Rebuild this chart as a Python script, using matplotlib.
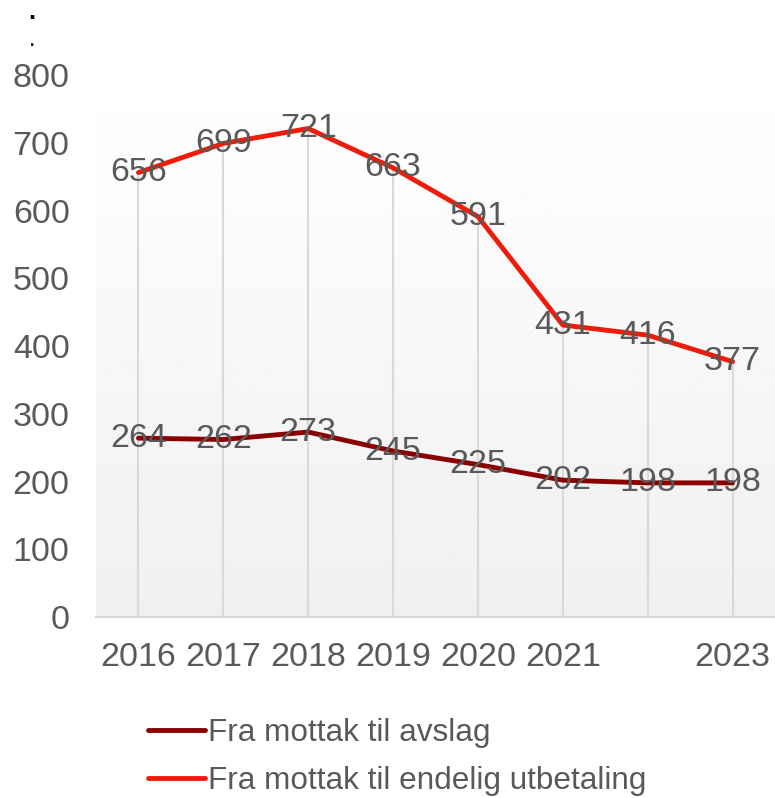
import matplotlib.pyplot as plt
import numpy as np

years = ['2016', '2017', '2018', '2019', '2020', '2021', '2022', '2023']
avslag = [264, 262, 273, 245, 225, 202, 198, 198]
utbetaling = [656, 699, 721, 663, 591, 431, 416, 377]
yticks = [0, 100, 200, 300, 400, 500, 600, 700, 800]

dark_red = '#8b0000'
red = '#ee1c0a'
grey = '#595959'
grid = '#d9d9d9'

plt.rcParams['font.family'] = ['Liberation Sans', 'DejaVu Sans']

fig = plt.figure(figsize=(7.75, 7.98), dpi=100)
ax = fig.add_axes([0.1239, 0.2268, 0.8761, 0.6792])

x = np.arange(len(years))

# background gradient, white at top to light grey at the bottom
grad = np.linspace(1.0, 0.94, 256).reshape(-1, 1)
ax.imshow(grad, cmap='gray', vmin=0, vmax=1, aspect='auto',
          extent=(-0.5, 7.5, 0, 800), origin='upper', zorder=0)

# drop lines from the higher series down to the axis
ax.vlines(x, 0, utbetaling, color=grid, lw=1.5, zorder=1)

l1, = ax.plot(x, avslag, color=dark_red, lw=3.5, solid_capstyle='round', zorder=3)
l2, = ax.plot(x, utbetaling, color=red, lw=3.5, solid_capstyle='round', zorder=3)

fs = 24.5
for xi, v in zip(x, avslag):
    ax.text(xi, v, str(v), ha='center', va='center', fontsize=fs, color=grey, zorder=4)
for xi, v in zip(x, utbetaling):
    ax.text(xi, v, str(v), ha='center', va='center', fontsize=fs, color=grey, zorder=4)

ax.set_xlim(-0.5, 7.5)
ax.set_ylim(0, 800)
ax.set_yticks(yticks)
ax.set_xticks(x, labels=[y if y != '2022' else '' for y in years])
ax.tick_params(axis='y', length=0, pad=19, labelsize=fs, labelcolor=grey)
ax.tick_params(axis='x', length=0, pad=18, labelsize=fs, labelcolor=grey)

for s in ['top', 'right', 'left']:
    ax.spines[s].set_visible(False)
ax.spines['bottom'].set_color(grid)
ax.spines['bottom'].set_linewidth(1.5)

leg = fig.legend(
    [l1, l2], ['Fra mottak til avslag', 'Fra mottak til endelig utbetaling'],
    loc='upper left', bbox_to_anchor=(148 / 775, 1 - 718 / 798),
    frameon=False, fontsize=22.7, handlelength=1.8, handletextpad=0.1,
    labelspacing=0.57, borderaxespad=0, borderpad=0, labelcolor=grey,
    )

fig.text(32 / 775, 1 - 19 / 798, '.', fontsize=18, fontweight='bold',
         ha='center', va='baseline', color='black')
fig.text(32 / 775, 1 - 46 / 798, '.', fontsize=17,
         ha='center', va='baseline', color='black')

fig.savefig('out.png', dpi=100)
